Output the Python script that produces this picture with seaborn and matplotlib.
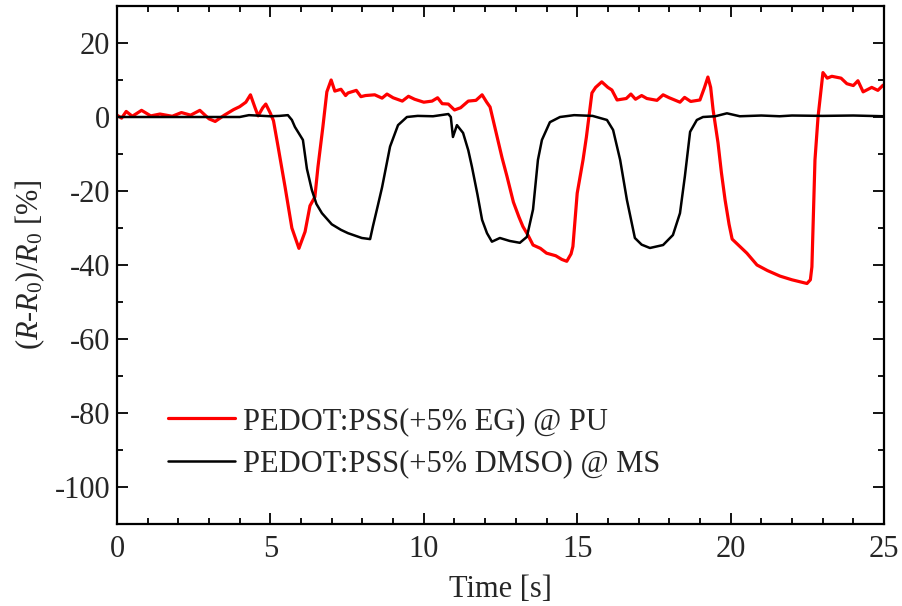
import numpy as np
import pandas as pd
import matplotlib
matplotlib.use('Agg')
import matplotlib.pyplot as plt
import seaborn as sns
from matplotlib.ticker import MultipleLocator

# PEDOT:PSS(+5% EG) @ PU  -- red trace
t_eg = [0.0, 0.15, 0.3, 0.5, 0.8, 1.1, 1.4, 1.8, 2.1, 2.4, 2.7, 3.0, 3.2, 3.5, 3.8, 4.0,
        4.2, 4.35, 4.5, 4.6, 4.75, 4.85, 5.0, 5.1, 5.25, 5.48, 5.7, 5.93, 6.13, 6.29,
        6.45, 6.55, 6.71, 6.84, 6.98, 7.1, 7.3, 7.45, 7.53, 7.8, 7.95, 8.1, 8.4, 8.64, 8.8,
        9.0, 9.3, 9.5, 9.7, 10.0, 10.27, 10.45, 10.6, 10.8, 11.0, 11.2, 11.45, 11.7, 11.9,
        12.05, 12.16, 12.39, 12.55, 12.71, 12.92, 13.1, 13.23, 13.4, 13.56, 13.8, 14.0,
        14.3, 14.5, 14.66, 14.8, 14.86, 15.0, 15.19, 15.3, 15.48, 15.6, 15.8, 16.0, 16.13,
        16.3, 16.6, 16.75, 16.9, 17.1, 17.27, 17.6, 17.8, 18.0, 18.35, 18.5, 18.7, 19.0,
        19.15, 19.26, 19.35, 19.43, 19.59, 19.7, 19.82, 19.95, 20.05, 20.3, 20.53, 20.86,
        21.2, 21.61, 22.0, 22.49, 22.6, 22.65, 22.75, 22.85, 23.01, 23.15, 23.3, 23.6,
        23.79, 24.0, 24.15, 24.32, 24.6, 24.8, 24.97]
r_eg = [0.5, -0.3, 1.5, 0.2, 1.8, 0.3, 0.8, 0.2, 1.2, 0.5, 1.8, -0.5, -1.2, 0.5, 2.0, 2.8,
        4.0, 6.0, 2.5, 0.3, 2.5, 3.5, 1.0, -1.0, -8.0, -19.0, -30.0, -35.5, -31.0, -24.0,
        -21.6, -13.5, -2.7, 6.8, 10.0, 7.0, 7.5, 5.8, 6.5, 7.2, 5.5, 5.8, 6.0, 5.1, 6.2,
        5.2, 4.3, 5.6, 4.8, 4.0, 4.3, 5.2, 3.6, 3.5, 1.9, 2.5, 4.3, 4.5, 6.0,
        4.0, 2.7, -5.4, -11.0, -16.0, -23.0, -27.0, -29.6, -32.0, -34.6, -35.5, -36.8,
        -37.5, -38.5, -39.0, -37.0, -35.0, -20.6, -11.6, -5.4, 6.5, 8.0, 9.5, 8.0, 7.3,
        4.6, 5.0, 6.2, 4.8, 5.8, 5.0, 4.5, 6.0, 5.2, 4.0, 5.3, 4.2, 4.6,
        8.0, 10.8, 8.0, 1.9, -7.0, -15.0, -22.4, -29.0, -33.0, -35.0, -36.8, -40.0,
        -41.5, -43.0, -44.0, -45.0, -44.0, -40.5, -11.6, 0.0, 12.0, 10.5, 11.0, 10.5,
        9.0, 8.5, 9.8, 6.8, 8.0, 7.2, 8.6]

# PEDOT:PSS(+5% DMSO) @ MS  -- black trace
t_dmso = [0.0, 4.0, 4.3, 5.0, 5.3, 5.57, 5.7, 5.8, 6.06, 6.19, 6.35, 6.5, 6.68, 7.0,
          7.3, 7.53, 7.98, 8.25, 8.34, 8.5, 8.64, 8.9, 9.16, 9.45, 9.8, 10.3, 10.8,
          10.88, 10.95, 11.08, 11.28, 11.45, 11.57, 11.75, 11.9, 12.06, 12.22, 12.48,
          12.8, 13.13, 13.36, 13.56, 13.72, 13.85, 14.11, 14.44, 14.9, 15.5, 15.97,
          16.17, 16.4, 16.62, 16.88, 17.1, 17.37, 17.8, 18.12, 18.35, 18.51, 18.68,
          18.9, 19.1, 19.5, 19.88, 20.3, 21.0, 21.6, 22.0, 23.0, 24.0, 25.0]
r_dmso = [0.0, 0.0, 0.5, 0.2, 0.3, 0.5, -0.8, -2.7, -6.2, -14.0, -19.7, -23.5, -26.0, -29.0,
          -30.5, -31.4, -32.7, -33.0, -29.6, -24.0, -19.0, -8.0, -2.2, 0.0, 0.3, 0.2, 0.8,
          0.0, -5.4, -2.2, -4.3, -9.0, -13.5, -21.0, -27.8, -31.4, -33.7, -32.7,
          -33.5, -34.0, -32.4, -25.0, -11.6, -6.2, -1.4, 0.0, 0.5, 0.3, -0.8,
          -3.5, -11.6, -22.4, -32.7, -34.5, -35.4, -34.6, -31.9, -26.0, -16.0, -4.0,
          -0.8, 0.0, 0.2, 1.0, 0.2, 0.4, 0.2, 0.4, 0.3, 0.4, 0.2]

label_eg = 'PEDOT:PSS(+5% EG) @ PU'
label_dmso = 'PEDOT:PSS(+5% DMSO) @ MS'

sns.set_style('ticks')
plt.rcParams['font.family'] = ['Liberation Serif', 'DejaVu Serif']
plt.rcParams['mathtext.fontset'] = 'custom'
plt.rcParams['mathtext.rm'] = 'Liberation Serif'
plt.rcParams['mathtext.it'] = 'Liberation Serif:italic'
plt.rcParams['axes.unicode_minus'] = False

FS = 22

df_eg = pd.DataFrame({'t': t_eg, 'r': r_eg})
df_dmso = pd.DataFrame({'t': t_dmso, 'r': r_dmso})

fig = plt.figure(figsize=(9.03, 6.06), dpi=100)
ax = fig.add_axes([117 / 903, 1 - 524 / 606, 767 / 903, 518 / 606])

sns.lineplot(data=df_eg, x='t', y='r', ax=ax, color='red', lw=2.3, sort=False, label=label_eg)
sns.lineplot(data=df_dmso, x='t', y='r', ax=ax, color='black', lw=1.8, sort=False, label=label_dmso)

ax.set_xlim(0, 25)
ax.set_ylim(-110, 30)
ax.xaxis.set_major_locator(MultipleLocator(5))
ax.xaxis.set_minor_locator(MultipleLocator(1))
ax.yaxis.set_major_locator(MultipleLocator(20))
ax.yaxis.set_minor_locator(MultipleLocator(10))
ax.tick_params(which='both', direction='in', top=True, right=True, labelsize=FS, width=1.3, color='black')
ax.tick_params(which='major', length=8)
ax.tick_params(axis='y', which='major', pad=5)
ax.tick_params(axis='x', which='major', pad=8)
ax.tick_params(which='minor', length=4)
for s in ax.spines.values():
    s.set_linewidth(1.6)
    s.set_color('black')

ax.set_xlabel('Time [s]', fontsize=FS, labelpad=8)
ax.set_ylabel(r'($\mathit{R}$-$\mathit{R}_0$)/$\mathit{R}_0$ [%]', fontsize=FS, labelpad=5)

ax.legend(loc='upper left', bbox_to_anchor=(0.0665, 0.226), frameon=False, fontsize=FS,
          handlelength=2.2, handletextpad=0.25, labelspacing=0.45, borderpad=0, borderaxespad=0)

plt.savefig('out.png', dpi=100)
